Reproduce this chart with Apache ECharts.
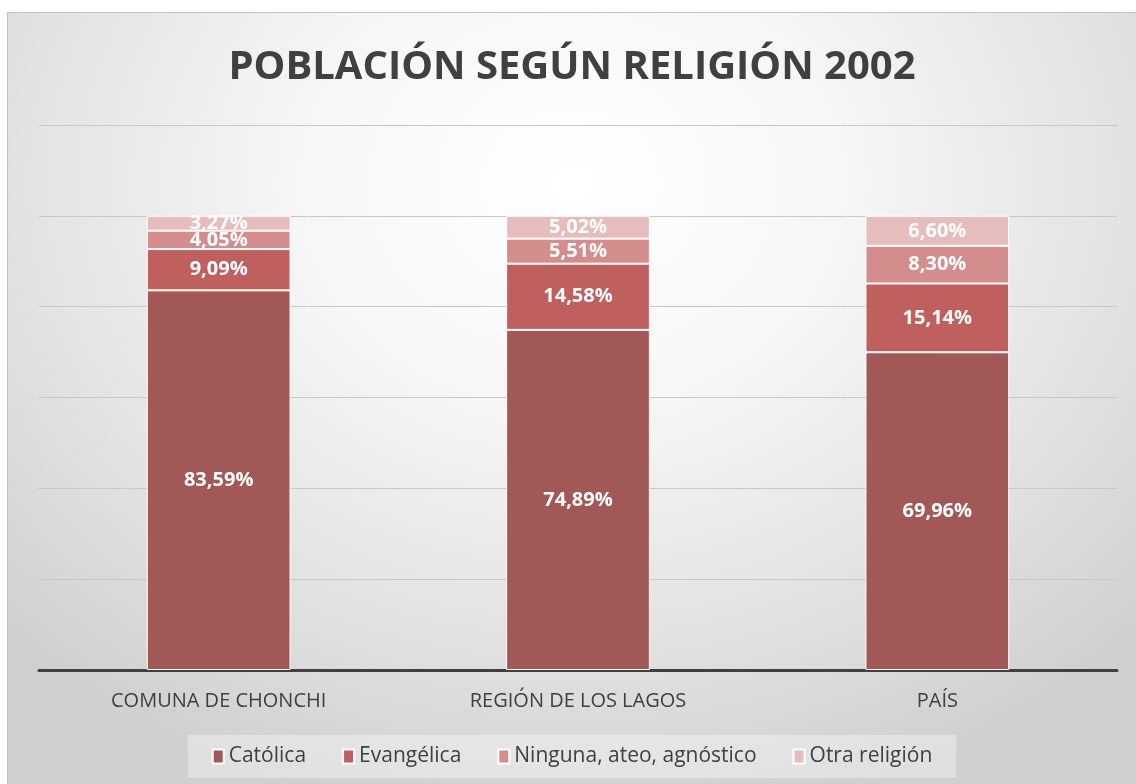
<!DOCTYPE html>
<html>
<head>
<meta charset="utf-8">
<script src="https://cdn.jsdelivr.net/npm/echarts@6/dist/echarts.min.js"></script>
<style>
    html, body { margin: 0; padding: 0; background: #fff; }
    #chart {
        position: absolute; left: 7px; top: 12px; width: 1129px; height: 772px;
        box-sizing: border-box; border-top: 1px solid #c4c4c4; border-left: 1px solid #c4c4c4;
        background: radial-gradient(ellipse 70% 85% at 50% 22%, #ffffff 0%, #f6f6f6 35%, #e2e2e2 70%, #cfcfcf 100%);
    }
</style>
</head>
<body>
<div id="chart"></div>
<script>
    var categories = ['COMUNA DE CHONCHI', 'REGIÓN DE LOS LAGOS', 'PAÍS'];
    var seriesNames = ['Católica', 'Evangélica', 'Ninguna, ateo, agnóstico', 'Otra religión'];
    var catolica = [83.59, 74.89, 69.96];
    var evangelica = [9.09, 14.58, 15.14];
    var ninguna = [4.05, 5.51, 8.30];
    var otra = [3.27, 5.02, 6.60];
    var colors = ['#A35858', '#BF5F5E', '#D48D8D', '#E5BDBD'];

    var myChart = echarts.init(document.getElementById('chart'));

    var fontFamily = '"Open Sans", "Noto Sans", sans-serif';

    function makeSeries(name, data, color) {
        return {
            name: name,
            type: 'bar',
            stack: 'total',
            barWidth: '40%',
            data: data,
            itemStyle: { color: color, borderColor: '#ffffff', borderWidth: 1 },
            label: {
                show: true,
                position: 'inside',
                color: '#ffffff',
                fontWeight: 'bold',
                fontSize: 20,
                fontFamily: fontFamily,
                formatter: function (p) {
                    return p.value.toFixed(2).replace('.', ',') + '%';
                }
            }
        };
    }

    var option = {
        title: {
            text: 'POBLACIÓN SEGÚN RELIGIÓN 2002',
            left: 'center',
            top: 30,
            textStyle: { color: '#404040', fontSize: 40, fontWeight: 'bold', fontFamily: fontFamily }
        },
        legend: {
            data: seriesNames,
            bottom: 6,
            left: 'center',
            itemWidth: 11,
            itemHeight: 14,
            itemGap: 36,
            padding: [11, 24],
            backgroundColor: 'rgba(255,255,255,0.35)',
            icon: 'rect',
            textStyle: { color: '#404040', fontSize: 21, fontFamily: fontFamily }
        },
        grid: {
            left: 31,
            right: 19,
            top: 112,
            bottom: 114
        },
        xAxis: {
            type: 'category',
            data: categories,
            axisLine: { lineStyle: { color: '#404040', width: 3 } },
            axisTick: { show: false },
            axisLabel: { color: '#404040', fontSize: 20, fontFamily: fontFamily, margin: 21 }
        },
        yAxis: {
            type: 'value',
            min: 0,
            max: 120,
            interval: 20,
            axisLabel: { show: false },
            axisLine: { show: false },
            axisTick: { show: false },
            splitLine: { lineStyle: { color: '#c8c8c8', width: 1 } }
        },
        series: [
            makeSeries(seriesNames[0], catolica, colors[0]),
            makeSeries(seriesNames[1], evangelica, colors[1]),
            makeSeries(seriesNames[2], ninguna, colors[2]),
            makeSeries(seriesNames[3], otra, colors[3])
        ]
    };

    myChart.setOption(option);
</script>
</body>
</html>
